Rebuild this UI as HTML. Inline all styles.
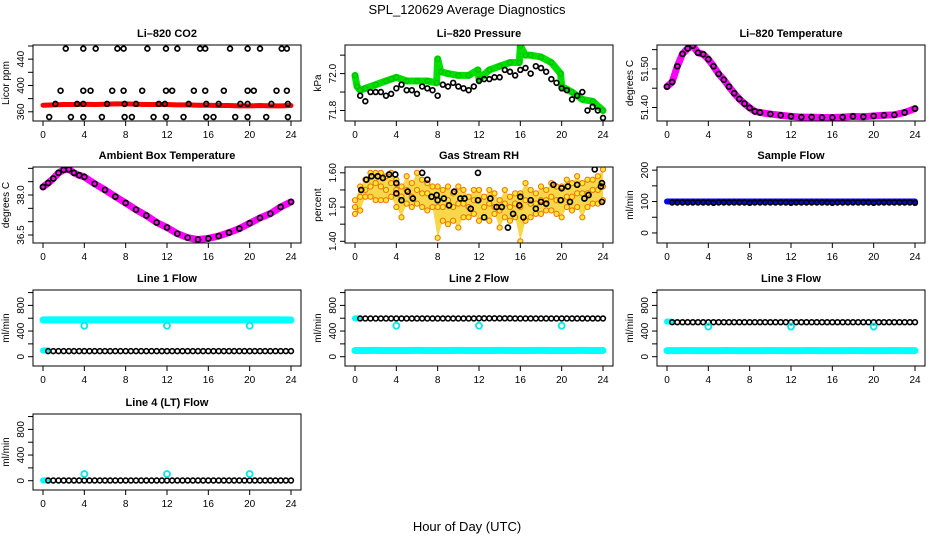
<!DOCTYPE html>
<html><head><meta charset="utf-8"><style>
html,body{margin:0;padding:0;background:#fff;}
svg{display:block;font-family:"Liberation Sans",Arial,sans-serif;}
</style></head><body>
<svg id="chart" width="936" height="540" viewBox="0 0 936 540" xmlns="http://www.w3.org/2000/svg">
<text x="467" y="14" font-size="13" text-anchor="middle">SPL_120629  Average Diagnostics</text>
<text x="467" y="531" font-size="13" text-anchor="middle">Hour of Day (UTC)</text>
</svg>
<script>
const H49=[0,0.5,1,1.5,2,2.5,3,3.5,4,4.5,5,5.5,6,6.5,7,7.5,8,8.5,9,9.5,10,10.5,11,11.5,12,12.5,13,13.5,14,14.5,15,15.5,16,16.5,17,17.5,18,18.5,19,19.5,20,20.5,21,21.5,22,22.5,23,23.5,24];
const H25=[0,1,2,3,4,5,6,7,8,9,10,11,12,13,14,15,16,17,18,19,20,21,22,23,24];
const H48=[0.5,1,1.5,2,2.5,3,3.5,4,4.5,5,5.5,6,6.5,7,7.5,8,8.5,9,9.5,10,10.5,11,11.5,12,12.5,13,13.5,14,14.5,15,15.5,16,16.5,17,17.5,18,18.5,19,19.5,20,20.5,21,21.5,22,22.5,23,23.5,24];
const xTicks=[0,4,8,12,16,20,24];
// CO2
const co2Red=[370,370.5,371,371,371.5,371,371.5,372,372,371.5,371,371,371,370.5,370.5,370,370,369.5,369.5,369,369,369.5,369,369,369.5];
const co2Levels=[456,392,372,352];
const co2LevelX=[[2.2,3.9,5.1,7.2,7.8,10.1,11.9,13.0,15.2,15.7,18.1,19.8,21.0,23.1,23.6],[1.7,3.9,4.6,6.7,7.8,9.6,11.9,12.5,14.6,15.7,17.5,19.8,20.4,22.6,23.6],[1.2,3.3,3.9,6.2,7.9,9.0,11.2,11.8,14.1,15.8,17.0,19.1,19.8,22.1,23.7],[0.6,2.7,3.9,5.7,7.9,8.6,10.7,11.9,13.6,15.8,16.5,18.6,19.8,21.6,23.7]];
// Pressure
const presGreenH=[0,0.2,0.5,1,2,3,3.5,4,5,6,7,7.9,8,8.3,9,10,11,11.9,12,13,14,15,15.9,16,16.5,17,18,19,19.9,20,21,22,23,24];
const presGreen=[71.99,71.93,71.91,71.92,71.94,71.96,71.97,71.98,71.96,71.96,71.96,71.95,72.08,72.01,72.0,71.99,71.99,72.02,71.97,72.02,72.04,72.06,72.06,72.15,72.1,72.1,72.09,72.06,72.0,71.93,71.9,71.86,71.85,71.8];
const presBlack=[71.88,71.85,71.90,71.90,71.90,71.88,71.89,71.92,71.94,71.91,71.91,71.89,71.93,71.92,71.91,71.88,71.94,71.93,71.95,71.93,71.92,71.91,71.93,71.96,71.97,71.97,71.98,71.98,72.02,72.01,71.99,72.02,72.03,72.0,72.04,72.03,72.01,71.97,71.95,71.92,71.91,71.86,71.88,71.90,71.80,71.82,71.80,71.76];
// Li-820 temperature
const tempH=[0,0.5,1,1.5,2,2.5,3,3.5,4,4.5,5,5.5,6,6.5,7,7.5,8,8.5,9,10,11,12,13,14,15,16,17,18,19,20,21,22,23,24];
const tempVals=[51.454,51.466,51.507,51.539,51.553,51.56,51.542,51.538,51.525,51.507,51.487,51.472,51.454,51.437,51.422,51.41,51.399,51.39,51.387,51.383,51.38,51.377,51.375,51.375,51.374,51.374,51.375,51.377,51.376,51.378,51.38,51.381,51.387,51.397];
// Ambient
const ambH=[0,0.5,1,1.5,2,2.5,3,3.5,4,5,6,7,8,9,10,11,12,13,14,15,16,17,18,19,20,21,22,23,24];
const ambVals=[38.3,38.45,38.62,38.83,38.94,38.96,38.83,38.74,38.68,38.42,38.19,37.94,37.7,37.45,37.23,36.97,36.78,36.55,36.4,36.33,36.37,36.46,36.59,36.74,36.94,37.14,37.3,37.55,37.74];
// RH
const rhA=[1.52,1.56,1.58,1.60,1.60,1.60,1.59,1.60,1.58,1.56,1.59,1.57,1.60,1.58,1.57,1.56,1.56,1.55,1.56,1.54,1.56,1.55,1.53,1.55,1.55,1.53,1.55,1.54,1.52,1.55,1.53,1.54,1.54,1.57,1.55,1.54,1.56,1.55,1.57,1.56,1.56,1.58,1.57,1.59,1.57,1.58,1.58,1.59,1.61];
const rhB=[1.50,1.53,1.55,1.56,1.57,1.56,1.55,1.57,1.55,1.53,1.55,1.53,1.55,1.54,1.54,1.53,1.50,1.50,1.52,1.50,1.51,1.51,1.50,1.52,1.52,1.50,1.51,1.50,1.49,1.51,1.50,1.51,1.50,1.52,1.51,1.51,1.52,1.52,1.53,1.52,1.52,1.53,1.53,1.54,1.54,1.54,1.55,1.55,1.56];
const rhC=[1.48,1.49,1.53,1.53,1.52,1.52,1.52,1.53,1.50,1.47,1.51,1.50,1.51,1.50,1.49,1.50,1.41,1.46,1.45,1.46,1.44,1.47,1.47,1.48,1.46,1.47,1.46,1.48,1.44,1.47,1.46,1.47,1.40,1.46,1.47,1.48,1.48,1.49,1.49,1.48,1.47,1.50,1.49,1.50,1.47,1.50,1.51,1.51,1.52];
const rhBlackH=[0.6,1.1,1.6,2.2,2.7,3.3,3.9,4,4,4.5,5.1,5.6,6.5,7,7.4,7.9,8,8.6,9.1,9.6,10.2,10.6,11.2,11.9,11.9,12.5,13.1,13.7,14.2,14.8,15.3,15.9,16,16.3,17,17.5,18,18.5,19.2,19.9,20,20.6,20.8,21.5,22.2,22.6,23.2,23.8,23.9,23.9];
const rhBlack=[1.55,1.58,1.59,1.59,1.585,1.595,1.595,1.57,1.54,1.52,1.545,1.525,1.60,1.58,1.53,1.535,1.52,1.525,1.505,1.545,1.525,1.525,1.495,1.52,1.60,1.47,1.525,1.50,1.50,1.44,1.48,1.505,1.53,1.47,1.52,1.495,1.515,1.51,1.565,1.52,1.555,1.56,1.515,1.565,1.525,1.535,1.61,1.56,1.57,1.515];
// Flows
const sampleBlue=[100,100,100,100,100,100,100,100,100,100,100,100,100,100,100,100,100,100,100,100,100,100,100,100,100];
const sampleBlack=[97,97,97,97,97,97,97,97,96,97,97,97,97,97,97,96,97,97,97,97,97,97,97,96,97,97,97,97,97,97,97,96,97,97,97,97,97,97,97,96,97,97,97,97,97,97,97,96];
const outlierH=[4,12,20];
const line1CyanHigh=[574,574,575,575,574,574,575,575,574,574,575,575,574,574,575,575,574,574,575,574,574,575,574,574,572];
const line1CyanLow=[97,96];
const line1Black=[87,87,87,87,87,87,87,87,87,87,87,87,87,87,87,87,87,87,87,87,87,87,87,87,87,87,87,87,87,87,87,87,87,87,87,87,87,87,87,87,87,87,87,87,87,87,87,87];
const line1Out=[482,482,482];
const line2CyanLow=[97,97,98,97,97,97,98,97,97,97,98,97,97,97,98,97,97,97,98,97,97,97,98,97,96];
const line2CyanHigh=[598,596];
const line2Black=[596,596,596,596,596,596,596,596,596,596,596,596,596,596,596,596,596,596,596,596,596,596,596,598,598,598,598,598,598,598,596,596,596,596,596,596,596,596,596,596,596,596,596,596,596,596,596,596];
const line2Out=[482,482,482];
const line3CyanLow=[95,95,96,95,95,95,96,95,95,95,96,95,95,95,96,95,95,95,96,95,95,95,96,95,94];
const line3CyanHigh=[548,545];
const line3Black=[538,538,538,538,538,538,538,538,538,538,538,538,538,538,538,538,538,538,538,538,538,538,538,538,538,538,538,538,538,538,538,538,538,538,538,538,538,538,538,538,538,538,538,538,538,538,538,538];
const line3Out=[470,470,470];
const line4Cyan=[5,5];
const line4Black=[3,3,3,3,3,3,3,3,3,3,3,3,3,3,3,3,3,3,3,3,3,3,3,3,3,3,3,3,3,3,3,3,3,3,3,3,3,3,3,3,3,3,3,3,3,3,3,3];
const line4Out=[105,105,105];
const flowTicks=[0,200,400,600,800,1000];
const flowLabels=["0","","400","","800",""];

const NS="http://www.w3.org/2000/svg";
const svg=document.getElementById('chart');
const colLeft=[33,345,657], rowTop=[45,167,290,414], W=268, Hh=76;
function mk(tag,attrs,parent){const e=document.createElementNS(NS,tag);for(const k in attrs)e.setAttribute(k,attrs[k]);(parent||svg).appendChild(e);return e;}

function panel(name,col,row,title,ylab,ydom,yt,yl){
  const g=mk('g',{});
  
  
  const L=colLeft[col],T=rowTop[row];
  const sx=h=>L+10+h*(W-20)/24;
  const sy=v=>T+Hh-(v-ydom[0])/(ydom[1]-ydom[0])*Hh;
  const t=mk('text',{x:L+W/2,y:T-8,'font-size':11,'font-weight':'bold','text-anchor':'middle'},g);
  t.textContent=title;
  
  
  const xa=mk('g',{},g);
  
  
  mk('line',{x1:sx(0),x2:sx(24),y1:T+Hh,y2:T+Hh,stroke:'#000'},xa);
  xTicks.forEach(v=>{mk('line',{x1:sx(v),x2:sx(v),y1:T+Hh,y2:T+Hh+5,stroke:'#000'},xa);
    const tx=mk('text',{x:sx(v),y:T+Hh+17,'font-size':10,'text-anchor':'middle'},xa);tx.textContent=v;});
  const ya=mk('g',{},g);
  
  
  mk('line',{x1:L,x2:L,y1:sy(yt[0]),y2:sy(yt[yt.length-1]),stroke:'#000'},ya);
  yt.forEach((v,i)=>{mk('line',{x1:L-5,x2:L,y1:sy(v),y2:sy(v),stroke:'#000'},ya);
    if(yl[i]){const tx=mk('text',{x:L-9,y:sy(v),'font-size':10,'text-anchor':'middle',transform:`rotate(-90 ${L-9} ${sy(v)})`},ya);tx.textContent=yl[i];}});
  const yt2=mk('text',{x:L-24,y:T+Hh/2,'font-size':10,'text-anchor':'middle',transform:`rotate(-90 ${L-24} ${T+Hh/2})`},g);
  yt2.textContent=ylab;
  
  
  const plot=mk('g',{},g);
  const clip=mk('clipPath',{id:'c'+name},g);mk('rect',{x:L,y:T,width:W,height:Hh},clip);
  plot.setAttribute('clip-path','url(#c'+name+')');
  const box=mk('rect',{x:L,y:T,width:W,height:Hh,fill:'none',stroke:'#000'},g);
  
  
  return {sx,sy,plot,name};
}
function band(p,hs,vs,color,w,nm){
  const pl=mk('polyline',{points:hs.map((h,i)=>p.sx(h)+','+p.sy(vs[i])).join(' '),fill:'none',stroke:color,'stroke-width':w,'stroke-linejoin':'round','stroke-linecap':'round'},p.plot);
  
  
}
function pts(p,hs,vs,color,r,sw,nm,fill){
  const g=mk('g',{},p.plot);
  
  
  hs.forEach((h,i)=>{mk('circle',{cx:p.sx(h),cy:p.sy(vs[i]),r:r,fill:fill||'none',stroke:color,'stroke-width':sw},g);});
}

// CO2
let p=panel('co2',0,0,'Li\u2013820 CO2','Licor ppm',[346,461.5],[360,380,400,420,440,460],['360','','400','','440','']);
band(p,H25,co2Red,'#f00',5,'red-series');
co2Levels.forEach((lv,k)=>pts(p,co2LevelX[k],co2LevelX[k].map(()=>lv),'#000',2.4,1.7,'black-level-'+k));
// Pressure
p=panel('pressure',1,0,'Li\u2013820 Pressure','kPa',[71.743,72.155],[71.8,71.9,72.0,72.1],['71.8','','72.0','']);
band(p,presGreenH,presGreen,'#00e000',7,'green-series');
pts(p,presGreenH,presGreen,'#00c000',2.4,1.3,'green-points');
pts(p,H48,presBlack,'#000',2.4,1.7,'black-points');
// Li-820 temp
p=panel('li820-temp',2,0,'Li\u2013820 Temperature','degrees C',[51.365,51.562],[51.40,51.45,51.50,51.55],['51.40','','51.50','']);
band(p,tempH,tempVals,'#ff00ff',7,'magenta-series');
pts(p,tempH,tempVals,'#000',2.5,1.7,'black-points');
// Ambient
p=panel('ambient-temp',0,1,'Ambient Box Temperature','degrees C',[36.2,39.05],[36.5,37,37.5,38,38.5,39],['36.5','','','38.0','','']);
band(p,ambH,ambVals,'#ff00ff',7,'magenta-series');
pts(p,ambH,ambVals,'#000',2.5,1.7,'black-points');
// RH
p=panel('gas-rh',1,1,'Gas Stream RH','percent',[1.395,1.617],[1.40,1.45,1.50,1.55,1.60],['1.40','','1.50','','1.60']);
const area=mk('polygon',{points:H49.map((h,i)=>p.sx(h)+','+p.sy(rhA[i])).concat(H49.slice().reverse().map((h,j)=>p.sx(h)+','+p.sy(rhC[48-j]))).join(' '),fill:'#f6d84a',stroke:'none'},p.plot);


pts(p,H49,rhA,'#f07010',2.6,1,'rh-upper','#ffe830');
pts(p,H49,rhB,'#f07010',2.6,1,'rh-middle','#ffe830');
pts(p,H49,rhC,'#f07010',2.6,1,'rh-lower','#ffe830');
pts(p,rhBlackH,rhBlack,'#000',2.5,1.7,'black-points');
// Sample flow
p=panel('sample-flow',2,1,'Sample Flow','ml/min',[-32,210],[0,50,100,150,200],['0','','100','','200']);
band(p,H25,sampleBlue,'#0000ff',6,'blue-series');
pts(p,H48,sampleBlack,'#000',2.4,1.6,'black-points');
// Line flows
const fdom=[-145,1040];
p=panel('line1-flow',0,2,'Line 1 Flow','ml/min',fdom,flowTicks,flowLabels);
band(p,H25,line1CyanHigh,'#00ffff',7,'cyan-high');
band(p,[0,0.5],line1CyanLow,'#00ffff',6,'cyan-low');
pts(p,H48,line1Black,'#000',2.4,1.6,'black-points');
pts(p,outlierH,line1Out,'#00e8e8',3,1.8,'cyan-outliers');
p=panel('line2-flow',1,2,'Line 2 Flow','ml/min',fdom,flowTicks,flowLabels);
band(p,H25,line2CyanLow,'#00ffff',7,'cyan-low');
band(p,[0,0.5],line2CyanHigh,'#00ffff',6,'cyan-high');
pts(p,H48,line2Black,'#000',2.4,1.6,'black-points');
pts(p,outlierH,line2Out,'#00e8e8',3,1.8,'cyan-outliers');
p=panel('line3-flow',2,2,'Line 3 Flow','ml/min',fdom,flowTicks,flowLabels);
band(p,H25,line3CyanLow,'#00ffff',7,'cyan-low');
band(p,[0,0.5],line3CyanHigh,'#00ffff',6,'cyan-high');
pts(p,H48,line3Black,'#000',2.4,1.6,'black-points');
pts(p,outlierH,line3Out,'#00e8e8',3,1.8,'cyan-outliers');
p=panel('line4-flow',0,3,'Line 4 (LT) Flow','ml/min',fdom,flowTicks,flowLabels);
band(p,[0,0.5],line4Cyan,'#00ffff',6,'cyan-low');
pts(p,H48,line4Black,'#000',2.4,1.6,'black-points');
pts(p,outlierH,line4Out,'#00e8e8',3,1.8,'cyan-outliers');
</script>
</body></html>
